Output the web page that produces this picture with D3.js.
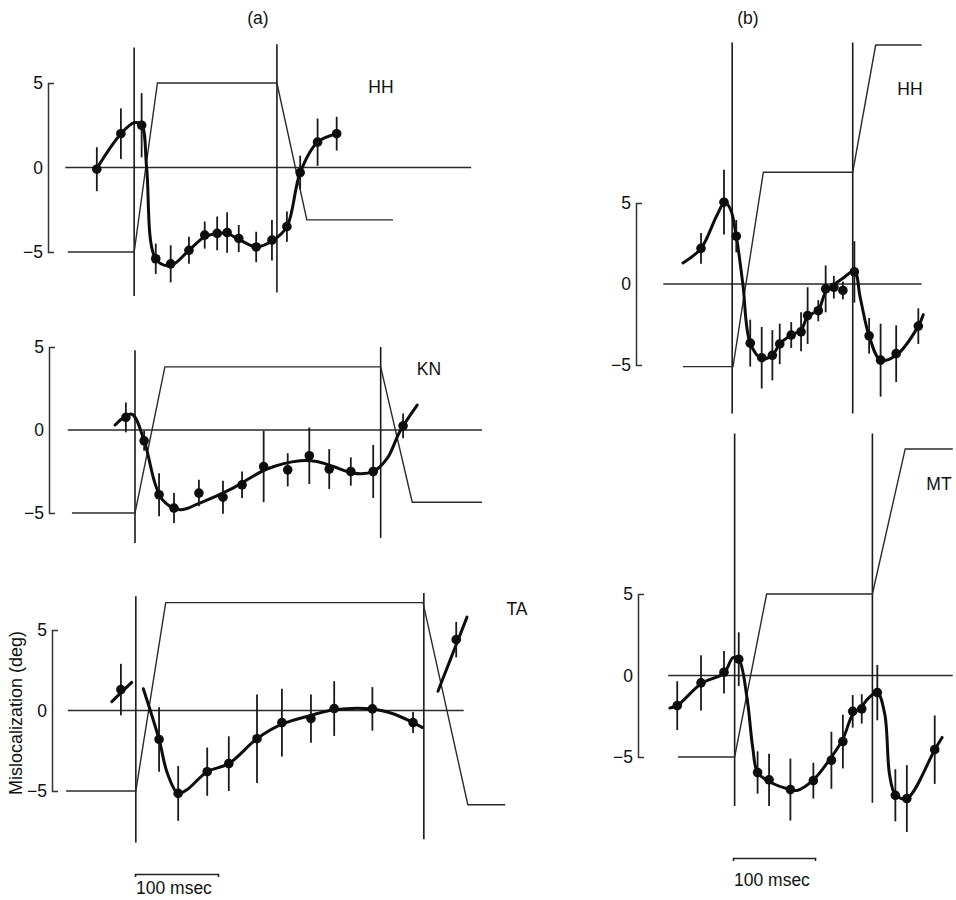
<!DOCTYPE html>
<html>
<head>
<meta charset="utf-8">
<script src="https://cdn.jsdelivr.net/npm/d3@7"></script>
<style>
  body { margin: 0; background: #fff; }
  text { font-family: "Liberation Sans", Arial, sans-serif; fill: #111; }
</style>
</head>
<body>
<svg id="chart" width="956" height="900"></svg>
<script>
// ---- data (time in msec from first saccade onset, mislocalization in deg) ----

// (a) HH
const hhA_t   = [-46, -17, 8, 25, 43, 65, 84, 99, 111, 125, 146, 165, 183, 199, 220, 243];
const hhA_y   = [-0.1, 2.0, 2.5, -5.4, -5.7, -4.9, -4.0, -3.9, -3.85, -4.2, -4.7, -4.3, -3.5, -0.3, 1.5, 2.0];
const hhA_err = [1.3, 1.5, 1.9, 0.9, 1.1, 0.8, 0.8, 1.0, 1.2, 0.8, 0.9, 1.2, 0.9, 1.0, 1.4, 1.0];
const hhA_fit = [[-46, -0.05], [-17, 2.0], [-1, 2.65], [8, 2.5], [14, 0], [25, -5.4], [43, -5.8], [65, -4.9],
                 [84, -4.1], [99, -3.9], [111, -3.9], [125, -4.25], [146, -4.7], [165, -4.35], [183, -3.5],
                 [199, -0.3], [220, 1.5], [243, 2.0]];
const hhA_eye = [[-81, -5], [-1, -5], [27, 5], [171, 5], [207, -3.1], [311, -3.1]];
const hhA_sacc = [-1, 171];

// (a) KN
const kn_t   = [-11, 11, 29, 47, 77, 106, 129, 155, 184, 210, 234, 260, 287, 323];
const kn_y   = [0.76, -0.65, -3.9, -4.7, -3.8, -4.05, -3.3, -2.2, -2.4, -1.55, -2.35, -2.5, -2.5, 0.25];
const kn_err = [0.9, 0.6, 1.3, 0.9, 0.8, 1.0, 0.8, 2.15, 1.0, 1.7, 1.2, 0.85, 1.6, 0.75];
const kn_fit = [[-24, 0.3], [-4, 0.95], [11, -0.65], [24, -3.2], [33, -4.2], [54, -4.8], [78, -4.4], [118, -3.5],
                [159, -2.35], [199, -1.85], [219, -1.9], [239, -2.2], [263, -2.6], [287, -2.5], [304, -1.7],
                [319, -0.1], [340, 1.5]];
const kn_eye = [[-76, -5], [0, -5], [36, 3.8], [296, 3.8], [334, -4.35], [418, -4.35]];
const kn_sacc = [0, 296];

// (a) TA
const ta_t   = [-17, 29, 52, 87, 113, 147, 177, 212, 240, 286, 335, 387];
const ta_y   = [1.3, -1.8, -5.15, -3.8, -3.3, -1.75, -0.75, -0.5, 0.12, 0.1, -0.75, 4.4];
const ta_err = [1.6, 2.0, 1.7, 1.5, 1.7, 2.75, 2.1, 1.5, 1.7, 1.35, 0.65, 1.1];
const ta_fit1 = [[-28, 0.55], [-4, 1.75]];
const ta_fit2 = [[10, 1.35], [29, -1.8], [39, -3.9], [52, -5.15], [63, -4.9], [87, -3.8], [113, -3.3], [147, -1.75],
                 [177, -0.85], [212, -0.3], [240, 0.05], [286, 0.1], [311, -0.2], [335, -0.75], [346, -1.05]];
const ta_fit3 = [[365, 1.2], [400, 5.8]];
const ta_eye = [[-83, -5], [1, -5], [37, 6.7], [347, 6.7], [401, -5.85], [446, -5.85]];
const ta_sacc = [1, 348];

// (b) HH
const hhB_t   = [-39, -11, 4, 21, 35, 48, 57, 71, 83, 91, 104, 113, 123, 134, 148, 166, 180, 199, 226];
const hhB_y   = [2.2, 5.05, 2.95, -3.65, -4.55, -4.4, -3.7, -3.15, -2.95, -1.95, -1.65, -0.3, -0.2, -0.4, 0.75,
                 -3.2, -4.7, -4.3, -2.6];
const hhB_err = [0.95, 2.0, 1.0, 1.45, 1.9, 1.55, 1.25, 0.8, 1.2, 1.75, 0.65, 1.45, 0.7, 0.55, 1.9, 1.1, 2.25, 1.75, 1.1];
const hhB_fit = [[-61, 1.3], [-39, 2.2], [-20, 4.2], [-10, 5.05], [-3, 4.6], [4, 2.95], [12, 0], [21, -3.65],
                 [35, -4.6], [48, -4.4], [57, -3.7], [71, -3.15], [83, -2.85], [91, -2.0], [104, -1.6],
                 [113, -0.5], [123, -0.05], [134, 0.35], [148, 0.8], [155, -0.8], [166, -3.2], [180, -4.7],
                 [199, -4.4], [226, -2.6], [232, -1.9]];
const hhB_eye = [[-61, -5.1], [0, -5.1], [37, 6.9], [146, 6.9], [174, 14.75], [230, 14.75]];
const hhB_sacc = [-1, 146];

// (b) MT
const mt_t   = [-68, -39, -11, 7, 30, 44, 70, 98, 120, 134, 146, 157, 176, 198, 212, 246];
const mt_y   = [-1.85, -0.45, 0.2, 1.0, -5.95, -6.4, -7.0, -6.45, -5.2, -4.05, -2.2, -2.05, -1.05, -7.35, -7.55, -4.55];
const mt_err = [1.5, 1.7, 1.3, 1.65, 1.3, 1.6, 1.9, 1.1, 1.75, 1.65, 1.0, 0.9, 1.7, 1.6, 2.05, 2.1];
const mt_fit = [[-77, -2.0], [-68, -1.85], [-39, -0.5], [-11, 0.15], [0, 1.1], [7, 1.0], [17, -1.35], [24, -4.4],
                [30, -5.95], [44, -6.5], [70, -7.0], [78, -7.05], [98, -6.4], [120, -5.0], [134, -3.9],
                [146, -2.4], [157, -1.9], [165, -1.4], [176, -1.05], [185, -2.35], [191, -6.1], [198, -7.3],
                [212, -7.55], [246, -4.55], [255, -3.8]];
const mt_eye = [[-67, -5], [2, -5], [41, 5], [170, 5], [210, 13.9], [268, 13.9]];
const mt_sacc = [2, 170];

const yTicks = [-5, 0, 5];

// ---- layout ----
const svg = d3.select('#chart');

// time scales for each column (100 msec scale bar)
const xA = d3.scaleLinear().domain([0, 100]).range([135, 218]);
const xB = d3.scaleLinear().domain([0, 100]).range([733, 815]);

const panels = [
  { name: 'HH', x: xA, t: hhA_t, v: hhA_y, e: hhA_err, fits: [hhA_fit], eye: hhA_eye, sacc: hhA_sacc,
    yr: [252, 83], axisX: 48, zero: [-84, 405], vext: [[7.1, -7.6], [7.3, -7.4]], label: [381, 93] },
  { name: 'KN', x: xA, t: kn_t, v: kn_y, e: kn_err, fits: [kn_fit], eye: kn_eye, sacc: kn_sacc,
    yr: [513, 347], axisX: 49, zero: [-81, 418], vext: [[4.8, -6.8], [5.0, -6.5]], label: [429, 375] },
  { name: 'TA', x: xA, t: ta_t, v: ta_y, e: ta_err, fits: [ta_fit1, ta_fit2, ta_fit3], eye: ta_eye, sacc: ta_sacc,
    yr: [791, 630], axisX: 52, zero: [-81, 396], vext: [[7.1, -8.2], [7.3, -8.0]], label: [517, 615] },
  { name: 'HH', x: xB, t: hhB_t, v: hhB_y, e: hhB_err, fits: [hhB_fit], eye: hhB_eye, sacc: hhB_sacc,
    yr: [365, 203], axisX: 636, zero: [-85, 230], vext: [[14.9, -8.0], [14.9, -8.0]], label: [910, 95] },
  { name: 'MT', x: xB, t: mt_t, v: mt_y, e: mt_err, fits: [mt_fit], eye: mt_eye, sacc: mt_sacc,
    yr: [757, 594], axisX: 638, zero: [-79, 268], vext: [[14.85, -8.0], [14.85, -7.8]], label: [939, 490] }
];

panels.forEach(p => {
  const x = p.x;
  const y = d3.scaleLinear().domain([-5, 5]).range(p.yr);
  const g = svg.append('g');

  // bracket axis
  const ax = g.append('g')
    .attr('transform', `translate(${p.axisX},0)`)
    .call(d3.axisLeft(y).tickValues(yTicks).tickSizeInner(0).tickSizeOuter(-6).tickPadding(5));
  ax.select('.domain').attr('stroke', '#333').attr('stroke-width', 1.5);
  ax.selectAll('text').style('font-size', '17.5px').attr('fill', '#111');

  // zero line
  g.append('line')
    .attr('x1', x(p.zero[0])).attr('x2', x(p.zero[1]))
    .attr('y1', y(0)).attr('y2', y(0))
    .attr('stroke', '#2a2a2a').attr('stroke-width', 1.4);

  // saccade onset lines
  p.sacc.forEach((s, i) => {
    g.append('line')
      .attr('x1', x(s)).attr('x2', x(s))
      .attr('y1', y(p.vext[i][0])).attr('y2', y(p.vext[i][1]))
      .attr('stroke', '#1a1a1a').attr('stroke-width', 1.6);
  });

  // eye position trace
  g.append('path')
    .datum(p.eye)
    .attr('fill', 'none')
    .attr('stroke', '#2a2a2a')
    .attr('stroke-width', 1.4)
    .attr('d', d3.line().x(d => x(d[0])).y(d => y(d[1])));

  // fitted curve(s)
  const fitLine = d3.line().x(d => x(d[0])).y(d => y(d[1])).curve(d3.curveCatmullRom.alpha(0.5));
  p.fits.forEach(f => {
    g.append('path')
      .datum(f)
      .attr('fill', 'none')
      .attr('stroke', '#0d0d0d')
      .attr('stroke-width', 3)
      .attr('stroke-linecap', 'round')
      .attr('d', fitLine);
  });

  const pts = p.t.map((t, i) => ({ t: t, v: p.v[i], e: p.e[i] }));

  // error bars
  g.selectAll('.err').data(pts).enter().append('line')
    .attr('x1', d => x(d.t)).attr('x2', d => x(d.t))
    .attr('y1', d => y(d.v - d.e)).attr('y2', d => y(d.v + d.e))
    .attr('stroke', '#1a1a1a').attr('stroke-width', 1.8);

  // points
  g.selectAll('.pt').data(pts).enter().append('circle')
    .attr('cx', d => x(d.t)).attr('cy', d => y(d.v))
    .attr('r', 4.8)
    .attr('fill', '#0d0d0d');

  // subject label
  g.append('text')
    .attr('x', p.label[0]).attr('y', p.label[1])
    .attr('text-anchor', 'middle')
    .style('font-size', '17.5px')
    .text(p.name);
});

// column titles
svg.append('text').attr('x', 258).attr('y', 24).attr('text-anchor', 'middle').style('font-size', '17.5px').text('(a)');
svg.append('text').attr('x', 748).attr('y', 24).attr('text-anchor', 'middle').style('font-size', '17.5px').text('(b)');

// y-axis label
svg.append('text')
  .attr('transform', 'translate(22,713) rotate(-90)')
  .attr('text-anchor', 'middle')
  .style('font-size', '18px')
  .text('Mislocalization (deg)');

// 100 msec scale bars
[[xA, 874, 894], [xB, 858, 886]].forEach(([x, yb, yt]) => {
  const bar = svg.append('g')
    .attr('transform', `translate(0,${yb})`)
    .call(d3.axisBottom(x).tickValues([]).tickSizeOuter(3));
  bar.select('.domain').attr('stroke', '#222').attr('stroke-width', 1.6);
  svg.append('text')
    .attr('x', x(0) + 1).attr('y', yt)
    .style('font-size', '17.5px')
    .text('100 msec');
});
</script>
</body>
</html>
